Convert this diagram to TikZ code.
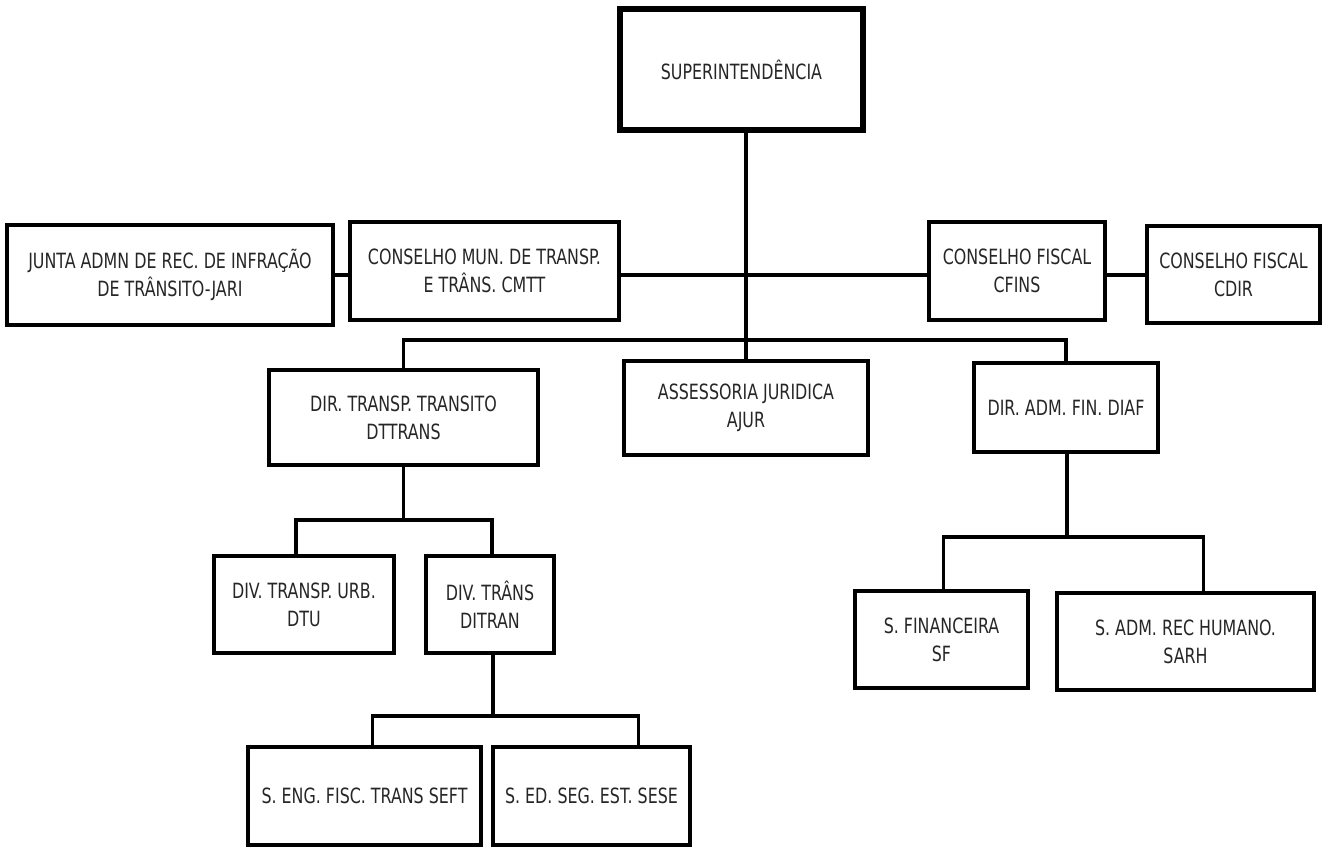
\documentclass[tikz,border=0pt]{standalone}
\usepackage{fontspec}
\setmainfont[FakeStretch=0.84]{DejaVu Sans Condensed}
\usepackage{tikz}
\usetikzlibrary{positioning}

\begin{document}
\begin{tikzpicture}[x=1pt, y=-1pt,
    box/.style={draw, line width=3.3pt, align=center, inner sep=0pt, text=black!85,
        font=\fontsize{21}{28}\selectfont},
    link/.style={line width=3.3pt}]
\useasboundingbox (0,0) rectangle (1322,846);

% top of the chart
\node[box, line width=6pt, minimum width=243pt, minimum height=121pt] (super) at (741.5, 69.5) {SUPERINTENDÊNCIA};

% councils row
\node[box, minimum width=326pt, minimum height=100pt] (junta) at (170, 275) {JUNTA ADMN DE REC. DE INFRAÇÃO\\DE TRÂNSITO-JARI};
\node[box, minimum width=269pt, minimum height=98pt] (cmtt) at (484.5, 271) {CONSELHO MUN. DE TRANSP.\\E TRÂNS. CMTT};
\node[box, minimum width=176pt, minimum height=98pt] (cfins) at (1017, 271) {CONSELHO FISCAL\\CFINS};
\node[box, minimum width=173pt, minimum height=97pt] (cdir) at (1233.5, 274.5) {CONSELHO FISCAL\\CDIR};

% directorates
\node[box, minimum width=269pt, minimum height=95pt] (dttrans) at (403.5, 417.5) {DIR. TRANSP. TRANSITO\\DTTRANS};
\node[box, minimum width=244pt, minimum height=94pt] (ajur) at (746, 408) {ASSESSORIA JURIDICA\\AJUR};
\node[box, minimum width=184pt, minimum height=89pt] (diaf) at (1066, 407.5) {DIR. ADM. FIN. DIAF};

% divisions
\node[box, minimum width=180pt, minimum height=97pt] (dtu) at (304, 604.5) {DIV. TRANSP. URB.\\DTU};
\node[box, minimum width=128pt, minimum height=97pt] (ditran) at (490, 604.5) {DIV. TRÂNS\\DITRAN};
\node[box, minimum width=173pt, minimum height=97pt] (sf) at (941.5, 639.5) {S. FINANCEIRA\\SF};
\node[box, minimum width=257pt, minimum height=97pt] (sarh) at (1185.5, 641.5) {S. ADM. REC HUMANO.\\SARH};

% sections
\node[box, minimum width=233pt, minimum height=98pt] (seft) at (364.5, 796) {S. ENG. FISC. TRANS SEFT};
\node[box, minimum width=197pt, minimum height=98pt] (sese) at (591.5, 796) {S. ED. SEG. EST. SESE};

\coordinate (row) at (746, 275);
\coordinate (bar) at (746, 340);
\coordinate (dtfork) at (404, 520);
\coordinate (difork) at (493, 716);
\coordinate (dafork) at (1067, 537);

% connectors
\draw[link] (ajur.north |- super.south) -- (ajur.north);
\draw[link] (junta.east) -- (junta.east -| cmtt.west);
\draw[link] (cmtt.east |- row) -- (cfins.west |- row);
\draw[link] (cfins.east |- row) -- (cdir.west |- row);
\draw[link] (dttrans.north) -- (dttrans.north |- bar) -- (diaf.north |- bar) -- (diaf.north);

\draw[link] (dttrans.south) -- (dttrans.south |- dtfork);
\draw[link] ([xshift=-8pt]dtu.north) |- (dtfork) -| ([xshift=2pt]ditran.north);

\draw[link] ([xshift=3pt]ditran.south) -- ([xshift=3pt]ditran.south |- difork);
\draw[link] ([xshift=8pt]seft.north) |- (difork) -| ([xshift=47pt]sese.north);

\draw[link] ([xshift=1pt]diaf.south) -- ([xshift=1pt]diaf.south |- dafork);
\draw[link] ([xshift=2pt]sf.north) |- (dafork) -| ([xshift=18pt]sarh.north);

\end{tikzpicture}
\end{document}
